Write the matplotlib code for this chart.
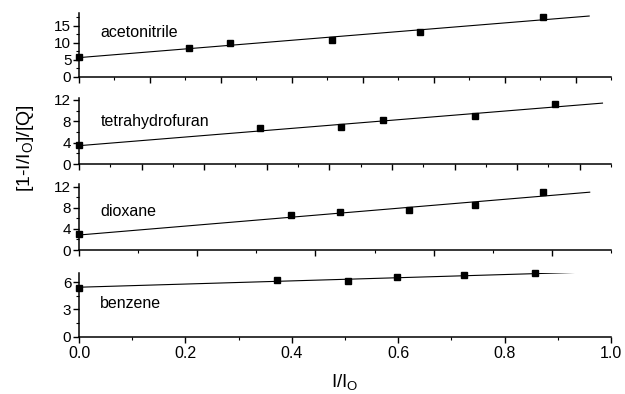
import matplotlib
matplotlib.use("Agg")
import matplotlib.pyplot as plt
from matplotlib.ticker import MultipleLocator

plt.rcParams['font.family'] = ['Liberation Sans', 'DejaVu Sans']
plt.rcParams['mathtext.fontset'] = 'custom'
plt.rcParams['mathtext.rm'] = 'Liberation Sans'
plt.rcParams['mathtext.it'] = 'Liberation Sans'

# solvent data: I/Io vs [1-I/Io]/[Q]
names = ["acetonitrile", "tetrahydrofuran", "dioxane", "benzene"]

acn_x = [0.0, 0.207, 0.284, 0.476, 0.641, 0.873]
acn_y = [5.9, 8.5, 10.0, 10.8, 13.05, 17.5]
acn_fit_x = [0.0, 0.959]
acn_fit_y = [5.6, 17.8]

thf_x = [0.0, 0.340, 0.492, 0.572, 0.744, 0.894]
thf_y = [3.56, 6.8, 7.0, 8.25, 8.9, 11.3]
thf_fit_x = [0.0, 0.984]
thf_fit_y = [3.43, 11.4]

dio_x = [0.0, 0.398, 0.491, 0.620, 0.745, 0.873]
dio_y = [2.97, 6.6, 7.14, 7.58, 8.52, 10.9]
dio_fit_x = [0.0, 0.960]
dio_fit_y = [2.84, 10.95]

benz_x = [0.0, 0.372, 0.506, 0.597, 0.723, 0.858]
benz_y = [5.4, 6.22, 6.14, 6.62, 6.84, 6.99]
benz_fit_x = [0.0, 0.945]
benz_fit_y = [5.45, 7.1]

acn_yticks = [0, 5, 10, 15]
thf_yticks = [0, 4, 8, 12]
dio_yticks = [0, 4, 8, 12]
benz_yticks = [0, 3, 6]
xticks = [0.0, 0.2, 0.4, 0.6, 0.8, 1.0]
xticklabels = ['0.0', '0.2', '0.4', '0.6', '0.8', '1.0']

W, H = 625, 394
fig = plt.figure(figsize=(W / 100, H / 100), dpi=100)

def px_axes(top, bottom):
    return [79 / W, 1 - bottom / H, 532 / W, (bottom - top) / H]

panels = [
    (acn_x, acn_y, acn_fit_x, acn_fit_y, acn_yticks, px_axes(13.3, 76.7), 18.6, 0.2 / 1.5, 11.6),
    (thf_x, thf_y, thf_fit_x, thf_fit_y, thf_yticks, px_axes(98.3, 164), 12.3, 0.2 / 1.7, 7.13),
    (dio_x, dio_y, dio_fit_x, dio_fit_y, dio_yticks, px_axes(184, 250), 12.5, 0.2 / 0.9, 6.44),
    (benz_x, benz_y, benz_fit_x, benz_fit_y, benz_yticks, px_axes(272.7, 336.7), 7.05, 0.2, 3.13),
]

for i, (x, y, fx, fy, yt, rect, ytop, xmaj, ty) in enumerate(panels):
    ax = fig.add_axes(rect)
    ax.plot(fx, fy, '-', color='black', lw=0.8)
    ax.plot(x, y, 's', color='black', markersize=5, clip_on=False)
    ax.set_yticks(yt)
    ax.yaxis.set_minor_locator(MultipleLocator(yt[1] / 2))
    ax.xaxis.set_major_locator(MultipleLocator(xmaj))
    ax.xaxis.set_minor_locator(MultipleLocator(xmaj / 2))
    ax.set_xlim(0, 1.0)
    ax.set_ylim(0, ytop)
    for s in ['top', 'right']:
        ax.spines[s].set_visible(False)
    for s in ['left', 'bottom']:
        ax.spines[s].set_linewidth(1.1)
    ax.tick_params(which='major', direction='out', length=4, width=1.0, labelsize=11, pad=1.5)
    ax.tick_params(which='minor', direction='out', length=2.5, width=0.8)
    if i < 3:
        ax.tick_params(axis='x', labelbottom=False)
    else:
        ax.set_xticks(xticks)
        ax.set_xticklabels(xticklabels)
        ax.tick_params(axis='x', labelsize=11.5, pad=3)
    ax.text(0.04, ty, names[i], fontsize=11.5, va='baseline', ha='left')

fig.text(26 / W, 1 - 148 / H, r'[1-I/I$_\mathrm{O}$]/[Q]', rotation=90,
         ha='center', va='center', fontsize=14)
fig.text(345 / W, 1 - 387 / H, r'I/I$_\mathrm{O}$', ha='center', va='baseline', fontsize=13.5)

fig.savefig("out.png", dpi=100)
